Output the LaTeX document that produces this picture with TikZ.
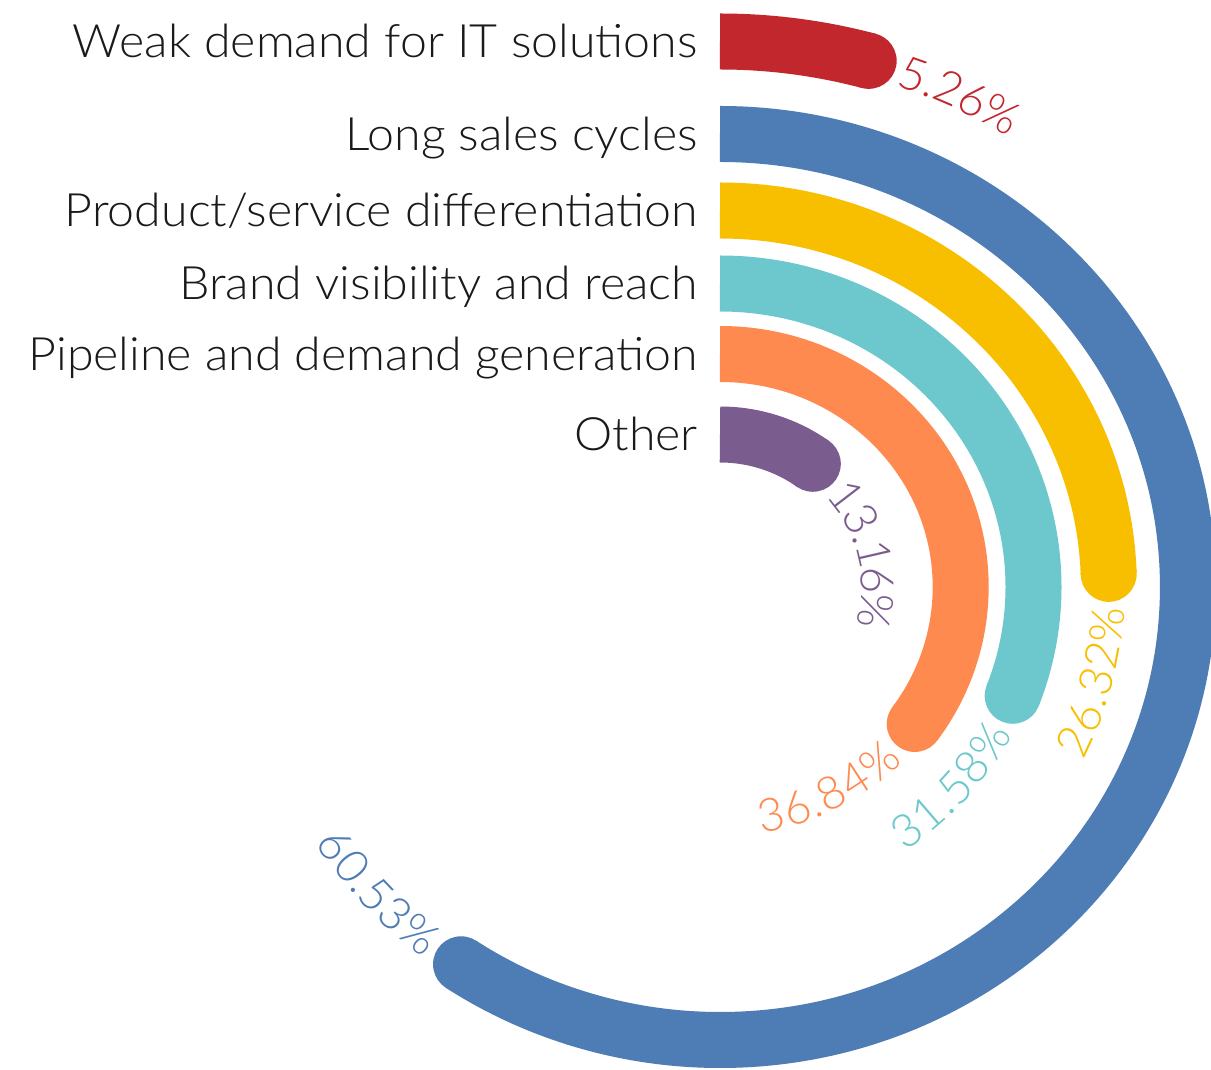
\documentclass[tikz,border=0pt]{standalone}
\usepackage{fontspec}
\IfFontExistsTF{Lato Light}{\setmainfont{Lato Light}}{\setmainfont{Lato}}
\usetikzlibrary{decorations.text}
\definecolor{cRed}{HTML}{C1272D}
\definecolor{cBlue}{HTML}{4E7CB4}
\definecolor{cYellow}{HTML}{F8BF00}
\definecolor{cTeal}{HTML}{6CC8CC}
\definecolor{cOrange}{HTML}{FF8A50}
\definecolor{cPurple}{HTML}{7B5C8E}
\definecolor{cText}{HTML}{1A1A1A}
\newcommand\bigfont{\fontsize{46}{52}\selectfont}
\newcommand\catfont{\fontsize{46}{52}\selectfont\addfontfeatures{FakeStretch=1.05}}
% #1 name, #2 Ry, #3 end angle (clockwise from top), #4 colour, #5 percent text, #6 flip
\newcommand\radband[6]{%
  \pgfmathsetmacro\ry{#2}%
  \pgfmathsetmacro\rx{1.033*#2}%
  \pgfmathsetmacro\pe{90-#3}%
  \pgfmathsetmacro\ps{90-#3-33/#2*57.2958}%
  \pgfmathsetmacro\pf{\ps-100}%
  \draw[band,draw=#4] (0,\ry) arc[start angle=90,end angle=\pe,x radius=\rx,y radius=\ry];
  \fill[#4] ({\rx*cos(\pe)},{\ry*sin(\pe)}) coordinate (#1end) circle[radius=28];
  \ifnum#6=0
    \path[decorate,decoration={text along path,text align=left,raise=-16pt,
      text={|\bigfont\color{#4}|#5}}]
      ({\rx*cos(\ps)},{\ry*sin(\ps)}) arc[start angle=\ps,end angle=\pf,x radius=\rx,y radius=\ry];
  \else
    \path[decorate,decoration={text along path,text align=right,raise=-16pt,
      text={|\bigfont\color{#4}|#5}}]
      ({\rx*cos(\pf)},{\ry*sin(\pf)}) arc[start angle=\pf,end angle=\ps,x radius=\rx,y radius=\ry];
  \fi
}
\begin{document}
\begin{tikzpicture}[x=1pt,y=1pt,
  band/.style={line width=56pt},
  catlabel/.style={anchor=base east, inner sep=0pt, font=\catfont, text=cText}]
\useasboundingbox[fill=white] (-720,587) rectangle (491,-483);
\coordinate (C) at (0,0);
\radband{red}{545.5}{15.3}{cRed}{5.26{\%}}{0}
\radband{blue}{453}{213.6}{cBlue}{60.53{\%}}{1}
\radband{yellow}{376.5}{88}{cYellow}{26.32{\%}}{1}
\radband{teal}{303.5}{111}{cTeal}{31.58{\%}}{1}
\radband{orange}{233}{126}{cOrange}{36.84{\%}}{1}
\radband{purple}{152.5}{36.1}{cPurple}{13.16{\%}}{0}
\node[catlabel] (l1) at (-22,{545.5-16.5}) {Weak demand for IT solutions};
\node[catlabel] (l2) at (-22,{453-16.5}) {Long sales cycles};
\node[catlabel] (l3) at (-22,{376.5-16.5}) {Product/service differentiation};
\node[catlabel] (l4) at (-22,{303.5-16.5}) {Brand visibility and reach};
\node[catlabel] (l5) at (-22,{233-16.5}) {Pipeline and demand generation};
\node[catlabel] (l6) at (-22,{152.5-16.5}) {Other};
\end{tikzpicture}
\end{document}
